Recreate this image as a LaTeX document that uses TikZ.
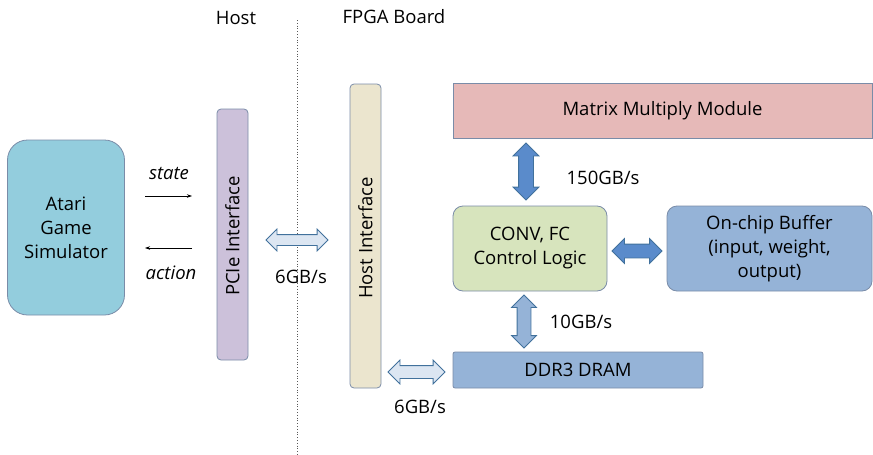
\documentclass[tikz,border=0pt]{standalone}
\usepackage{fontspec}
\setmainfont{Open Sans}
\usetikzlibrary{shapes.arrows,arrows.meta}
\definecolor{bordc}{HTML}{7A8CA8}
\definecolor{ataric}{HTML}{93CDDD}
\definecolor{pciec}{HTML}{CCC1DA}
\definecolor{hostc}{HTML}{EBE5CE}
\definecolor{mmmc}{HTML}{E6B9B8}
\definecolor{convc}{HTML}{D7E4BD}
\definecolor{bufc}{HTML}{95B3D7}
\definecolor{darkarr}{HTML}{5A8BCB}
\definecolor{midarr}{HTML}{95B3D7}
\definecolor{lightarr}{HTML}{DCE6F2}
\definecolor{arrbord}{HTML}{41719C}
\tikzset{
  box/.style={draw=bordc, line width=0.8pt, inner sep=0pt, align=center, font=\fontsize{18.5}{24}\selectfont},
  lbl/.style={inner sep=0pt, font=\fontsize{18.5}{24}\selectfont},
  dbl/.style={shape=double arrow, draw=arrbord, line width=0.8pt, inner xsep=0pt, double arrow head extend=5.5pt},
}
\begin{document}
\begin{tikzpicture}[x=1pt,y=-1pt]
\useasboundingbox (0,0) rectangle (873,455);
% divider
\draw[gray!70!black, line width=0.8pt, dotted] (297,20) -- (297,455);
\node[lbl] (hostlbl) at (236,18) {Host};
\node[lbl] (fpgalbl) at (394,17) {FPGA Board};
% boxes
\node[box, fill=ataric, rounded corners=20pt, minimum width=117pt, minimum height=175pt] (atari) at (66,227.5) {Atari\\Game\\Simulator};
\node[box, fill=pciec, rounded corners=4pt, minimum width=31pt, minimum height=251pt] (pcie) at (232.5,234.5) {};
\node[lbl, rotate=90] (pcietxt) at (232.5,236) {PCIe Interface};
\node[box, fill=hostc, rounded corners=4pt, minimum width=31pt, minimum height=304pt] (hostif) at (365.5,236) {};
\node[lbl, rotate=90] (hosttxt) at (365.5,238) {Host Interface};
\node[box, fill=mmmc, minimum width=419pt, minimum height=55pt] (mmm) at (662.5,110.5) {Matrix Multiply Module};
\node[box, fill=convc, rounded corners=10pt, minimum width=154pt, minimum height=85pt] (conv) at (530,248.5) {CONV, FC\\Control Logic};
\node[box, fill=bufc, rounded corners=10pt, minimum width=205pt, minimum height=85pt] (buf) at (769.5,248.5) {On-chip Buffer\\(input, weight,\\output)};
\node[box, fill=bufc, rounded corners=2pt, minimum width=250pt, minimum height=36pt] (ddr) at (578,370) {DDR3 DRAM};
% state / action
\coordinate (s1) at (145,196);
\coordinate (s2) at (192,196);
\coordinate (r1) at (192,248);
\coordinate (r2) at (145,248);
\draw[-{Stealth[length=5pt,width=3.5pt]}, line width=0.7pt] (s1) -- (s2);
\draw[-{Stealth[length=5pt,width=3.5pt]}, line width=0.7pt] (r1) -- (r2);
\node[lbl, font=\fontsize{18.5}{24}\selectfont\itshape] (state) at (169,173) {state};
\node[lbl, font=\fontsize{18.5}{24}\selectfont\itshape] (action) at (171,273) {action};
% fat arrows
\node[dbl, fill=lightarr, inner ysep=5pt, minimum height=62pt] (a1) at (297,240) {};
\node[dbl, fill=lightarr, inner ysep=6pt, minimum height=57pt] (a2) at (416.5,372) {};
\node[dbl, fill=darkarr, inner ysep=7pt, minimum height=57pt, rotate=90] (a3) at (526,171.5) {};
\node[dbl, fill=darkarr, inner ysep=6.5pt, minimum height=50pt] (a4) at (637,251) {};
\node[dbl, fill=midarr, inner ysep=6.5pt, minimum height=53pt, rotate=90] (a5) at (524,321.5) {};
% labels
\node[lbl] (g1) at (301,277) {6GB/s};
\node[lbl] (g2) at (420,407) {6GB/s};
\node[lbl] (g3) at (603,178) {150GB/s};
\node[lbl] (g4) at (581,322) {10GB/s};
\end{tikzpicture}
\end{document}
